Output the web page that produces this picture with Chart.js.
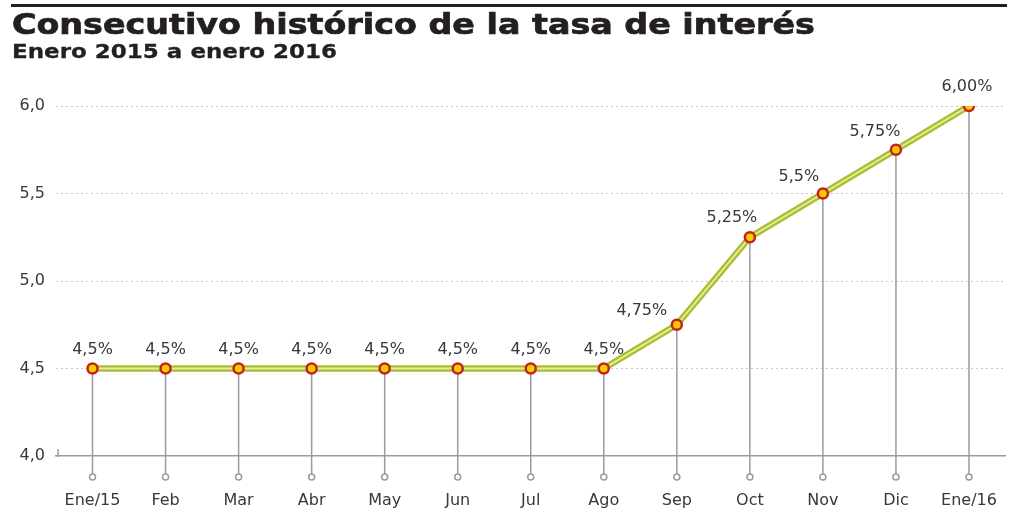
<!DOCTYPE html>
<html>
<head>
<meta charset="utf-8">
<script src="https://cdn.jsdelivr.net/npm/chart.js@4"></script>
<style>
  html, body { margin: 0; padding: 0; background: #fff; }
  #wrap { position: relative; width: 1013px; height: 510px; overflow: hidden; }
  #rule { position: absolute; left: 11px; top: 4px; width: 996px; height: 3px; background: #231f20; }
  #title { position: absolute; left: 12px; top: 11px; font: bold 28px/1 "DejaVu Sans", sans-serif; color: #231f20; white-space: nowrap; transform: scaleX(1.19); transform-origin: left top; -webkit-text-stroke: 0.7px #231f20; }
  #subtitle { position: absolute; left: 12px; top: 41px; font: bold 20px/1 "DejaVu Sans", sans-serif; color: #231f20; white-space: nowrap; transform: scaleX(1.15); transform-origin: left top; -webkit-text-stroke: 0.3px #231f20; }
  canvas { position: absolute; left: 0; top: 0; }
</style>
</head>
<body>
<div id="wrap">
  <canvas id="rateChart" width="1013" height="510"></canvas>
  <div id="rule"></div>
  <div id="title">Consecutivo histórico de la tasa de interés</div>
  <div id="subtitle">Enero 2015 a enero 2016</div>
</div>
<script>
// data
const months = ['Ene/15', 'Feb', 'Mar', 'Abr', 'May', 'Jun', 'Jul', 'Ago', 'Sep', 'Oct', 'Nov', 'Dic', 'Ene/16'];
const rates = [4.5, 4.5, 4.5, 4.5, 4.5, 4.5, 4.5, 4.5, 4.75, 5.25, 5.5, 5.75, 6.0];
const rateLabels = ['4,5%', '4,5%', '4,5%', '4,5%', '4,5%', '4,5%', '4,5%', '4,5%', '4,75%', '5,25%', '5,5%', '5,75%', '6,00%'];
const yTicks = [4.0, 4.5, 5.0, 5.5, 6.0];

const textColor = '#383838';
const fontFamily = '"DejaVu Sans", sans-serif';

// horizontal nudges for the labels on the rising part
const labelShiftX = [0, 0, 0, 0, 0, 0, 0, 0, -35, -18, -24, -21, -2];
const labelShiftY = [0, 0, 0, 0, 0, 0, 0, 0, 5, 0, 2, 1, 0];

// drop lines from each point down past the axis, with a small ring at the end
const dropLines = {
  id: 'dropLines',
  beforeDatasetsDraw(chart) {
    const ctx = chart.ctx;
    const bottom = chart.chartArea.bottom;
    const meta = chart.getDatasetMeta(1);
    ctx.save();
    ctx.strokeStyle = '#9b9b9b';
    ctx.lineWidth = 1.5;
    meta.data.forEach(pt => {
      ctx.beginPath();
      ctx.moveTo(pt.x, pt.y);
      ctx.lineTo(pt.x, bottom + 18);
      ctx.stroke();
      ctx.beginPath();
      ctx.fillStyle = '#fff';
      ctx.arc(pt.x, bottom + 21, 3, 0, Math.PI * 2);
      ctx.fill();
      ctx.stroke();
    });
    // small upright tick at the start of the x axis
    ctx.beginPath();
    ctx.moveTo(chart.chartArea.left + 2, bottom - 7);
    ctx.lineTo(chart.chartArea.left + 2, bottom + 1);
    ctx.stroke();
    ctx.restore();
  }
};

const valueLabels = {
  id: 'valueLabels',
  afterDatasetsDraw(chart) {
    const ctx = chart.ctx;
    const meta = chart.getDatasetMeta(1);
    ctx.save();
    ctx.font = '16px ' + fontFamily;
    ctx.fillStyle = textColor;
    ctx.textAlign = 'center';
    ctx.textBaseline = 'middle';
    meta.data.forEach((pt, i) => {
      ctx.fillText(rateLabels[i], pt.x + labelShiftX[i], pt.y - 19 + labelShiftY[i]);
    });
    ctx.restore();
  }
};

const chart = new Chart(document.getElementById('rateChart'), {
  type: 'line',
  data: {
    labels: months,
    datasets: [
      {
        data: rates,
        order: 2,
        borderColor: '#abbd30',
        borderWidth: 6.5,
        pointRadius: 0,
        tension: 0,
        borderJoinStyle: 'round'
      },
      {
        data: rates,
        order: 1,
        borderColor: '#e8ec9e',
        borderWidth: 1.8,
        pointRadius: 5,
        pointBorderWidth: 2.5,
        pointBackgroundColor: '#f6d000',
        pointBorderColor: '#c8201e',
        tension: 0
      }
    ]
  },
  options: {
    responsive: false,
    animation: false,
    events: [],
    layout: { padding: { left: 11, right: -2, top: 106, bottom: 0 } },
    plugins: {
      legend: { display: false },
      tooltip: { enabled: false }
    },
    scales: {
      x: {
        offset: true,
        afterFit(scale) {
          scale.height = 54;
          scale.paddingLeft = 0;
          scale.paddingRight = 0;
        },
        grid: { display: false, drawTicks: false },
        border: { display: true, color: '#9b9b9b', width: 1.5 },
        ticks: {
          color: textColor,
          font: { family: fontFamily, size: 16 },
          padding: 35,
          maxRotation: 0,
          autoSkip: false
        }
      },
      y: {
        min: yTicks[0],
        max: yTicks[yTicks.length - 1],
        afterFit(scale) { scale.width = 45; },
        afterBuildTicks(scale) { scale.ticks = yTicks.map(v => ({ value: v })); },
        border: { display: false, dash: [2, 3] },
        grid: {
          drawTicks: false,
          color: c => (c.tick && c.tick.value === yTicks[0]) ? 'rgba(0,0,0,0)' : '#c8c8c8',
          lineWidth: 1
        },
        ticks: {
          color: textColor,
          font: { family: fontFamily, size: 16 },
          padding: 11,
          callback: v => v.toFixed(1).replace('.', ',')
        }
      }
    }
  },
  plugins: [dropLines, valueLabels]
});
</script>
</body>
</html>
